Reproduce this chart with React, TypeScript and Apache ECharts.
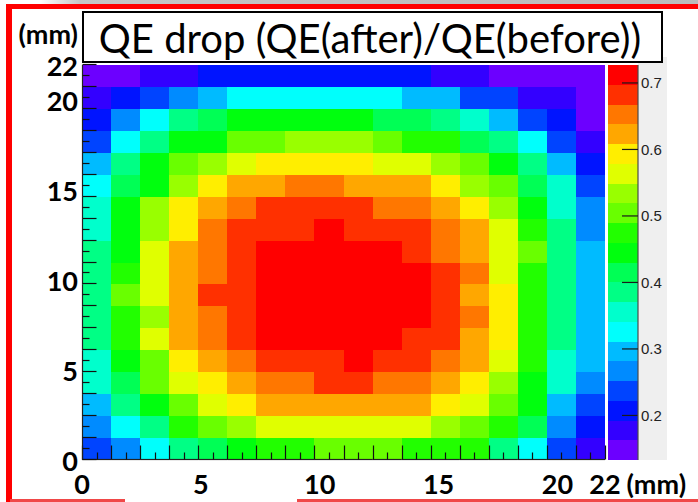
import { useEffect, useRef } from "react";
import * as echarts from "echarts";

// QE(after)/QE(before) per bin of the 22 mm x 22 mm scan (18 x 18 bins),
// top row (y = 22 mm) first, x from 0 to 22 mm
const QE_ROWS: number[][] = [
  [0.149, 0.151, 0.176, 0.181, 0.205, 0.210, 0.212, 0.209, 0.206, 0.211, 0.208, 0.203, 0.180, 0.175, 0.150, 0.147, 0.145, 0.152],
  [0.179, 0.205, 0.238, 0.265, 0.298, 0.324, 0.329, 0.331, 0.327, 0.330, 0.322, 0.295, 0.292, 0.240, 0.235, 0.181, 0.176, 0.150],
  [0.209, 0.268, 0.325, 0.384, 0.417, 0.442, 0.448, 0.451, 0.446, 0.443, 0.418, 0.413, 0.388, 0.354, 0.297, 0.236, 0.204, 0.155],
  [0.236, 0.327, 0.385, 0.444, 0.449, 0.502, 0.507, 0.532, 0.537, 0.533, 0.505, 0.478, 0.472, 0.416, 0.383, 0.324, 0.239, 0.177],
  [0.295, 0.387, 0.446, 0.503, 0.536, 0.566, 0.592, 0.597, 0.595, 0.590, 0.562, 0.568, 0.531, 0.501, 0.444, 0.389, 0.299, 0.208],
  [0.328, 0.414, 0.447, 0.535, 0.593, 0.624, 0.627, 0.652, 0.656, 0.621, 0.625, 0.620, 0.596, 0.533, 0.506, 0.418, 0.357, 0.238],
  [0.355, 0.443, 0.537, 0.591, 0.626, 0.654, 0.682, 0.685, 0.688, 0.681, 0.651, 0.655, 0.622, 0.594, 0.536, 0.446, 0.352, 0.266],
  [0.358, 0.441, 0.534, 0.595, 0.650, 0.684, 0.686, 0.690, 0.705, 0.687, 0.682, 0.679, 0.655, 0.625, 0.565, 0.474, 0.387, 0.268],
  [0.384, 0.446, 0.563, 0.622, 0.657, 0.681, 0.709, 0.715, 0.718, 0.713, 0.707, 0.686, 0.652, 0.626, 0.561, 0.503, 0.385, 0.297],
  [0.386, 0.476, 0.565, 0.624, 0.654, 0.683, 0.711, 0.716, 0.720, 0.719, 0.714, 0.708, 0.684, 0.656, 0.567, 0.473, 0.388, 0.294],
  [0.387, 0.505, 0.562, 0.627, 0.680, 0.686, 0.710, 0.717, 0.721, 0.720, 0.716, 0.709, 0.681, 0.624, 0.593, 0.477, 0.386, 0.298],
  [0.383, 0.472, 0.531, 0.623, 0.651, 0.682, 0.708, 0.714, 0.719, 0.718, 0.713, 0.705, 0.683, 0.653, 0.591, 0.476, 0.389, 0.296],
  [0.385, 0.474, 0.564, 0.621, 0.653, 0.684, 0.706, 0.712, 0.716, 0.714, 0.709, 0.688, 0.682, 0.627, 0.589, 0.471, 0.384, 0.293],
  [0.353, 0.447, 0.506, 0.596, 0.625, 0.656, 0.681, 0.687, 0.692, 0.703, 0.689, 0.684, 0.654, 0.622, 0.567, 0.474, 0.359, 0.299],
  [0.357, 0.419, 0.502, 0.565, 0.592, 0.623, 0.650, 0.656, 0.679, 0.684, 0.653, 0.651, 0.628, 0.597, 0.535, 0.448, 0.354, 0.263],
  [0.297, 0.389, 0.445, 0.507, 0.564, 0.593, 0.621, 0.627, 0.630, 0.628, 0.625, 0.619, 0.591, 0.561, 0.504, 0.441, 0.295, 0.234],
  [0.266, 0.325, 0.384, 0.477, 0.503, 0.536, 0.562, 0.567, 0.569, 0.566, 0.563, 0.560, 0.532, 0.506, 0.473, 0.414, 0.269, 0.206],
  [0.235, 0.264, 0.327, 0.388, 0.416, 0.447, 0.474, 0.478, 0.502, 0.507, 0.503, 0.476, 0.471, 0.468, 0.385, 0.329, 0.237, 0.179],
];

// Axis labels in mm and colour-scale labels
const MM_TICKS = [0, 5, 10, 15, 20, 22];
const SCALE_TICKS = [0.2, 0.3, 0.4, 0.5, 0.6, 0.7];
const Z_MIN = 0.133;
const Z_MAX = 0.727;

// 20-level violet-to-red contour palette
const PALETTE = [
  "#6c00ff", "#3300ff", "#0014ff", "#0044ff", "#008bff",
  "#00bbff", "#00fffc", "#00ffcc", "#00ff85", "#00ff55",
  "#00ff0e", "#22ff00", "#69ff00", "#99ff00", "#e0ff00",
  "#ffee00", "#ffa700", "#ff7700", "#ff3000", "#ff0000",
];

const TITLE = "QE drop (QE(after)/QE(before))";

const LABEL_FONT = "Lato";
const PLOT = { left: 82, top: 65, width: 523, height: 395 };
const N_BINS = 18;
const TICK_COLOR = "#111111";
const EDGE_COLOR = "#222222";
const MAJOR_LEN = 14;
const MINOR_LEN = 7;

function tickLine(x1: number, y1: number, x2: number, y2: number, color = TICK_COLOR) {
  return { type: "line", z2: 10, shape: { x1, y1, x2, y2 }, style: { stroke: color, lineWidth: 1.2 } };
}

// one histogram bin
function renderCell(_params: any, api: any) {
  const c = api.value(0);
  const r = api.value(1);
  const p0 = api.coord([c, r + 1]);
  const p1 = api.coord([c + 1, r]);
  const x0 = Math.round(p0[0]);
  const y0 = Math.round(p0[1]);
  const x1 = Math.round(p1[0]);
  const y1 = Math.round(p1[1]);
  return {
    type: "rect",
    shape: { x: x0, y: y0, width: x1 - x0, height: y1 - y0 },
    style: { fill: api.visual("color") },
  };
}

// frame edge segment and the half-bin ticks of one bin along the left or bottom edge
function renderFrame(_params: any, api: any) {
  const bin = api.value(0);
  const alongY = api.value(1) === 1;
  const children: any[] = [];
  const marks = bin === N_BINS - 1 ? [bin, bin + 0.5, bin + 1] : [bin, bin + 0.5];
  if (alongY) {
    const a = api.coord([0, bin]);
    const b = api.coord([0, bin + 1]);
    const edge = Math.round(a[0]) + 0.5;
    children.push(tickLine(edge, a[1], edge, b[1], EDGE_COLOR));
    marks.forEach((m) => {
      const y = Math.round(api.coord([0, m])[1]) - 0.5;
      children.push(tickLine(edge, y, edge + (Number.isInteger(m) ? MAJOR_LEN : MINOR_LEN), y));
    });
  } else {
    const a = api.coord([bin, 0]);
    const b = api.coord([bin + 1, 0]);
    const edge = Math.round(a[1]) - 0.5;
    children.push(tickLine(a[0], edge, b[0], edge, EDGE_COLOR));
    marks.forEach((m) => {
      const x = Math.round(api.coord([m, 0])[0]) + 0.5;
      children.push(tickLine(x, edge, x, edge - (Number.isInteger(m) ? MAJOR_LEN : MINOR_LEN)));
    });
  }
  return { type: "group", children };
}

function buildOption() {
  const nRows = QE_ROWS.length;
  const cellData: number[][] = [];
  QE_ROWS.forEach((row, r) => {
    row.forEach((v, c) => cellData.push([c, nRows - 1 - r, v]));
  });

  // one entry per bin along each frame edge: [bin, edge (0 = bottom, 1 = left)]
  const frameBins: number[][] = [];
  for (let b = 0; b < N_BINS; b++) {
    frameBins.push([b, 0]);
    frameBins.push([b, 1]);
  }

  const step = (Z_MAX - Z_MIN) / PALETTE.length;
  const pieces = PALETTE.map((color, i) => ({
    gte: Z_MIN + i * step,
    lt: i === PALETTE.length - 1 ? Z_MAX + 1 : Z_MIN + (i + 1) * step,
    color,
  }));
  const barData = PALETTE.map((_, i) => [Z_MIN + i * step, Z_MIN + (i + 1) * step, i]);

  const mmLabel = {
    fontFamily: LABEL_FONT,
    fontWeight: "bold" as const,
    fontSize: 27,
    color: "#000",
  };

  return {
    animation: false,
    backgroundColor: "#ffffff",
    grid: [
      { ...PLOT },
      { ...PLOT },
      { left: 608, top: 65, width: 30, height: 395 },
    ],
    xAxis: [
      { type: "value", gridIndex: 0, min: 0, max: N_BINS, show: false },
      {
        type: "value", gridIndex: 1, min: 0, max: 22,
        axisLine: { show: false },
        axisTick: { show: false },
        splitLine: { show: false },
        axisLabel: { ...mmLabel, margin: 10, customValues: MM_TICKS, formatter: (v: number) => String(v) },
        name: "(mm)",
        nameLocation: "end",
        nameGap: 20,
        nameTextStyle: { ...mmLabel, verticalAlign: "top", padding: [10, 0, 0, 0] },
      },
      { type: "value", gridIndex: 2, min: 0, max: 1, show: false },
    ],
    yAxis: [
      { type: "value", gridIndex: 0, min: 0, max: N_BINS, show: false },
      {
        type: "value", gridIndex: 1, min: 0, max: 22,
        axisLine: { show: false },
        axisTick: { show: false },
        splitLine: { show: false },
        axisLabel: { ...mmLabel, margin: 4, customValues: MM_TICKS, formatter: (v: number) => String(v) },
        name: "(mm)",
        nameLocation: "end",
        nameGap: 18,
        nameTextStyle: { ...mmLabel, align: "right", padding: [0, 4, 0, 0] },
      },
      {
        type: "value", gridIndex: 2, min: Z_MIN, max: Z_MAX, position: "right",
        axisLine: { show: false },
        axisTick: { show: false },
        axisLabel: {
          customValues: SCALE_TICKS,
          formatter: (v: number) => v.toFixed(1),
          fontFamily: "Liberation Sans",
          fontSize: 15,
          color: "#222",
          margin: 3,
        },
        splitLine: { show: false },
      },
    ],
    visualMap: [
      { type: "piecewise", show: false, seriesIndex: 0, dimension: 2, pieces },
    ],
    series: [
      // 2D histogram cells
      {
        type: "custom",
        xAxisIndex: 0,
        yAxisIndex: 0,
        z: 2,
        silent: true,
        data: cellData,
        encode: { x: 0, y: 1 },
        renderItem: renderCell,
      },
      // colour scale
      {
        type: "custom",
        xAxisIndex: 2,
        yAxisIndex: 2,
        z: 1,
        silent: true,
        data: barData,
        renderItem: (_params: any, api: any) => {
          const lo = api.value(0);
          const hi = api.value(1);
          const p0 = api.coord([0, hi]);
          const p1 = api.coord([1, lo]);
          const y0 = Math.round(p0[1]);
          const y1 = Math.round(p1[1]);
          return {
            type: "rect",
            shape: { x: p0[0], y: y0, width: p1[0] - p0[0], height: y1 - y0 },
            style: { fill: PALETTE[api.value(2)] },
          };
        },
      },
      // colour scale axis line and ticks
      {
        type: "custom",
        xAxisIndex: 2,
        yAxisIndex: 2,
        z: 5,
        silent: true,
        data: SCALE_TICKS.map((v) => [1, v]),
        renderItem: (params: any, api: any) => {
          const p = api.coord([1, api.value(1)]);
          const children: any[] = [tickLine(p[0] - 16, p[1], p[0], p[1], "#1a1a1a")];
          if (params.dataIndex === 0) {
            const top = api.coord([1, Z_MAX]);
            const bottom = api.coord([1, Z_MIN]);
            children.push(tickLine(top[0], top[1], bottom[0], bottom[1], "#4a4a4a"));
          }
          return { type: "group", children };
        },
      },
      // histogram frame: left and bottom edges with half-bin ticks
      {
        type: "custom",
        xAxisIndex: 0,
        yAxisIndex: 0,
        z: 8,
        silent: true,
        data: frameBins,
        renderItem: renderFrame,
      },
    ],
    graphic: {
      elements: [
        // canvas strip above the frame
        {
          type: "rect", z: -10, shape: { x: 40, y: 0, width: 658, height: 4 },
          style: {
            fill: new echarts.graphic.LinearGradient(0, 0, 1, 0, [
              { offset: 0, color: "#ffffff" },
              { offset: 0.06, color: "#c6c6c6" },
              { offset: 1, color: "#bcbcbc" },
            ]),
          },
        },
        // red slide frame
        { type: "rect", z: 20, shape: { x: 6, y: 4, width: 692, height: 5 }, style: { fill: "#ff0000" } },
        { type: "rect", z: 20, shape: { x: 6, y: 4, width: 6, height: 498 }, style: { fill: "#ff0000" } },
        { type: "rect", z: 20, shape: { x: 10, y: 499, width: 115, height: 3 }, style: { fill: "#f04848" } },
        { type: "rect", z: 20, shape: { x: 297, y: 499, width: 401, height: 3 }, style: { fill: "#f04848" } },
        // palette label panel
        { type: "rect", z: -10, shape: { x: 638, y: 57, width: 29, height: 403 }, style: { fill: "#efefef" } },
        // title box
        {
          type: "rect", z: 20, shape: { x: 83, y: 12, width: 579, height: 50 },
          style: { fill: "#ffffff", stroke: "#000000", lineWidth: 2 },
        },
        {
          type: "text", z: 21, x: 370, y: 38,
          style: {
            text: TITLE, fontFamily: LABEL_FONT, fontSize: 40, fill: "#000",
            textAlign: "center", textVerticalAlign: "middle",
          },
        },
      ],
    },
  };
}

export default function App() {
  const ref = useRef<HTMLDivElement>(null);
  useEffect(() => {
    if (!ref.current) return;
    const chart = echarts.init(ref.current, null, { renderer: "svg" });
    chart.setOption(buildOption() as any);
    return () => chart.dispose();
  }, []);
  return (
    <div
      ref={ref}
      style={{ position: "fixed", left: 0, top: 0, width: 698, height: 502, background: "#ffffff" }}
    />
  );
}
